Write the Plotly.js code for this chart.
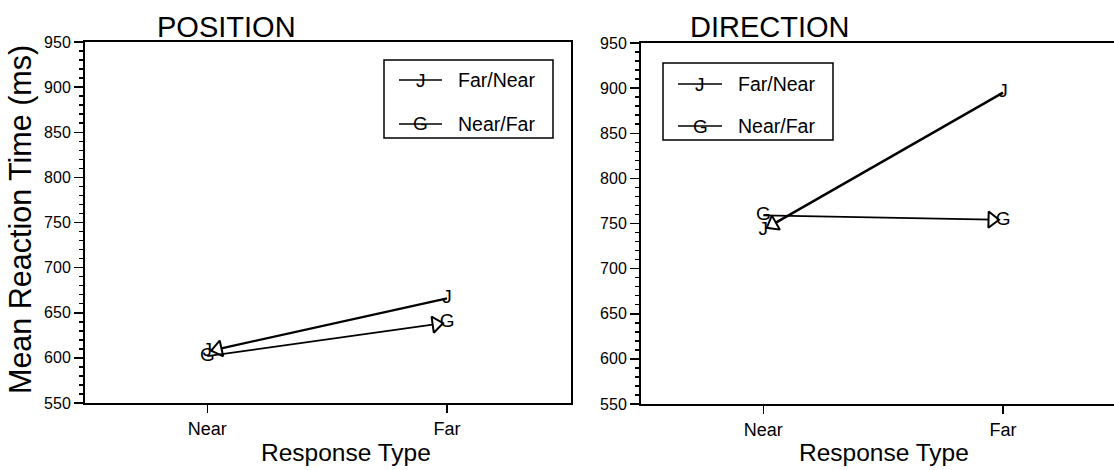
<!DOCTYPE html>
<html><head><meta charset="utf-8">
<script src="https://cdn.plot.ly/plotly-3.0.1.min.js"></script>
<style>html,body{margin:0;padding:0;overflow:hidden;background:#fff}#chart{width:1130px;height:470px}</style>
</head><body><div id="chart"></div>
<script>
// ---- data ----
const categories = ['Near', 'Far'];
const panelTitles = ['POSITION', 'DIRECTION'];
const seriesNames = ['Far/Near', 'Near/Far'];
const seriesSymbols = ['J', 'G'];
const positionFarNear = [607, 666];
const positionNearFar = [602, 639];
const directionFarNear = [743, 895];
const directionNearFar = [759, 754];
const yTickValues = [550, 600, 650, 700, 750, 800, 850, 900, 950];
const yAxisTitle = 'Mean Reaction Time (ms)';
const xAxisTitle = 'Response Type';

// ---- layout helpers ----
const W = 1130, H = 470;
const px = x => x / W;
const py = y => 1 - y / H;
const FONT = '"Liberation Sans", Arial, sans-serif';

function seriesTrace(vals, idx, reverse, sfx, width) {
  const xs = reverse ? [categories[1], categories[0]] : [categories[0], categories[1]];
  const ys = reverse ? [vals[1], vals[0]] : [vals[0], vals[1]];
  return {
    type: 'scatter', mode: 'lines+markers+text', x: xs, y: ys,
    xaxis: 'x' + sfx, yaxis: 'y' + sfx,
    text: [seriesSymbols[idx], seriesSymbols[idx]], textposition: 'middle center',
    textfont: {family: FONT, size: 19, color: '#000'},
    line: {color: '#000', width: width},
    marker: {symbol: 'triangle-up', size: [0, 14], angleref: 'previous', standoff: [0, 11],
             color: '#fff', opacity: 1, line: {color: '#000', width: 2}},
    cliponaxis: false, showlegend: false, hoverinfo: 'skip', name: seriesNames[idx]
  };
}

const traces = [
  seriesTrace(positionFarNear, 0, true, '', 2.2),
  seriesTrace(positionNearFar, 1, false, '', 1.8),
  seriesTrace(directionFarNear, 0, true, '2', 2.4),
  seriesTrace(directionNearFar, 1, false, '2', 1.8)
];

function xAxis(d0, d1, anchor) {
  return {domain: [px(d0), px(d1)], anchor: anchor, type: 'category', categoryarray: categories,
    range: [-0.51, 1.517], showline: true, linewidth: 2, linecolor: '#000', mirror: true,
    ticks: 'outside', ticklen: 8, tickwidth: 1.5, tickcolor: '#000',
    tickfont: {family: FONT, size: 18, color: '#000'}, showgrid: false, zeroline: false, fixedrange: true};
}
function yAxis(top, bottom, anchor) {
  return {domain: [py(bottom), py(top)], anchor: anchor, range: [550, 950], tickvals: yTickValues,
    showline: true, linewidth: 2, linecolor: '#000', mirror: true,
    ticks: 'outside', ticklen: 9, tickwidth: 1.5, tickcolor: '#000',
    minor: {dtick: 10, ticks: 'outside', ticklen: 4, tickwidth: 1.5, tickcolor: '#000', showgrid: false},
    tickfont: {family: FONT, size: 16, color: '#000'}, showgrid: false, zeroline: false, fixedrange: true};
}

const shapes = [];
const annotations = [];
function legend(x0, y0, x1, y1, rowsY, lineX0, lineX1, textX) {
  shapes.push({type: 'rect', xref: 'paper', yref: 'paper', x0: px(x0), x1: px(x1), y0: py(y1), y1: py(y0),
               line: {color: '#000', width: 1.5}, fillcolor: 'rgba(0,0,0,0)'});
  rowsY.forEach((ry, i) => {
    shapes.push({type: 'line', xref: 'paper', yref: 'paper', x0: px(lineX0), x1: px(lineX1), y0: py(ry), y1: py(ry),
                 line: {color: '#000', width: 1.5}});
    annotations.push({xref: 'paper', yref: 'paper', x: px((lineX0 + lineX1) / 2), y: py(ry), text: seriesSymbols[i],
      showarrow: false, xanchor: 'center', yanchor: 'middle', font: {family: FONT, size: 19, color: '#000'}});
    annotations.push({xref: 'paper', yref: 'paper', x: px(textX), y: py(ry), text: seriesNames[i],
      showarrow: false, xanchor: 'left', yanchor: 'middle', font: {family: FONT, size: 19.5, color: '#000'}});
  });
}
legend(384, 60, 553, 138, [80, 124], 399, 442, 456);
legend(663, 63, 833, 140, [84, 126], 678, 722, 736);

annotations.push({xref: 'paper', yref: 'paper', x: px(226), y: py(27), text: panelTitles[0], showarrow: false,
  xanchor: 'center', yanchor: 'middle', font: {family: FONT, size: 29, color: '#000'}});
annotations.push({xref: 'paper', yref: 'paper', x: px(770), y: py(27), text: panelTitles[1], showarrow: false,
  xanchor: 'center', yanchor: 'middle', font: {family: FONT, size: 29, color: '#000'}});
annotations.push({xref: 'paper', yref: 'paper', x: px(346), y: py(452), text: xAxisTitle, showarrow: false,
  xanchor: 'center', yanchor: 'middle', font: {family: FONT, size: 24.5, color: '#000'}});
annotations.push({xref: 'paper', yref: 'paper', x: px(884), y: py(452), text: xAxisTitle, showarrow: false,
  xanchor: 'center', yanchor: 'middle', font: {family: FONT, size: 24.5, color: '#000'}});
annotations.push({xref: 'paper', yref: 'paper', x: px(20), y: py(220), text: yAxisTitle, showarrow: false,
  textangle: -90, xanchor: 'center', yanchor: 'middle', font: {family: FONT, size: 30.5, color: '#000'}});

const layout = {
  width: W, height: H, margin: {l: 0, r: 0, t: 0, b: 0},
  paper_bgcolor: '#fff', plot_bgcolor: '#fff', showlegend: false,
  xaxis: xAxis(85, 571, 'y'), yaxis: yAxis(42, 403, 'x'),
  xaxis2: xAxis(641, 1127, 'y2'), yaxis2: yAxis(43, 404, 'x2'),
  shapes: shapes, annotations: annotations
};
Plotly.newPlot('chart', traces, layout, {staticPlot: true, displayModeBar: false});
</script></body></html>
